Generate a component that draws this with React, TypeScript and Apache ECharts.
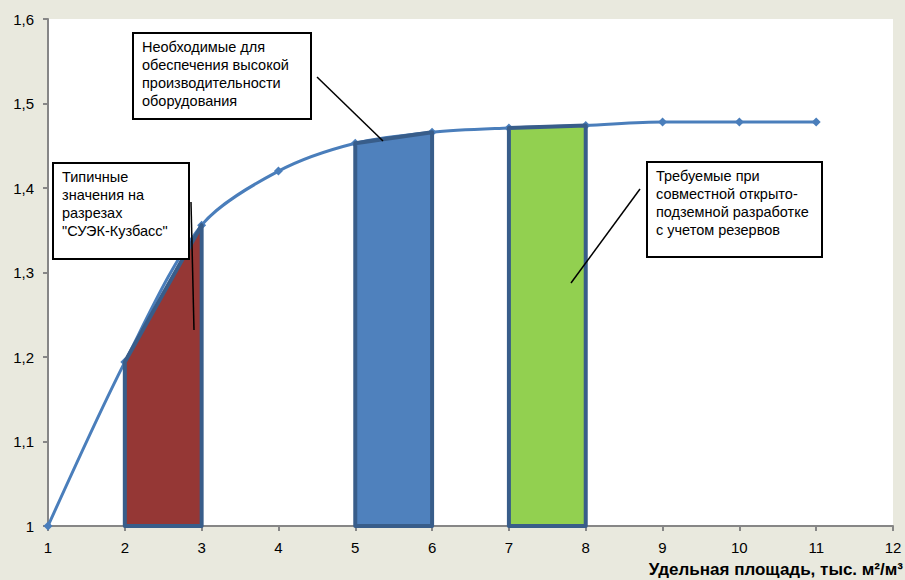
import React, { useEffect, useRef } from "react";
import * as echarts from "echarts";

const xValues = [1, 2, 3, 4, 5, 6, 7, 8, 9, 10, 11];
const yValues = [1.0, 1.194, 1.356, 1.42, 1.453, 1.466, 1.471, 1.474, 1.478, 1.478, 1.478];
const regionRanges = [
  [2, 3],
  [5, 6],
  [7, 8],
];
const regionColors = ["#953735", "#4f81bd", "#92d050"];
const xTicks = { min: 1, max: 12, interval: 1 };
const yTicks = { min: 1, max: 1.6, interval: 0.1 };
const xAxisTitle = "Удельная площадь, тыс. м²/м³";
const noteHigh = "Необходимые для\nобеспечения высокой\nпроизводительности\nоборудования";
const noteTypical = "Типичные\nзначения на\nразрезах\n\"СУЭК-Кузбасс\"";
const noteRequired = "Требуемые при\nсовместной открыто-\nподземной разработке\nс учетом резервов";

const valueAt = (x: number) => yValues[xValues.indexOf(x)];

function box(x: number, y: number, w: number, h: number, text: string) {
  return {
    type: "group",
    z: 100,
    children: [
      {
        type: "rect",
        shape: { x, y, width: w, height: h },
        style: { fill: "#ffffff", stroke: "#000000", lineWidth: 2 },
        z: 100,
      },
      {
        type: "text",
        x: x + 9,
        y: y + 5,
        style: {
          text,
          fill: "#000000",
          font: "14.5px 'Liberation Sans', Arial, sans-serif",
          lineHeight: 18,
          textAlign: "left",
          textVerticalAlign: "top",
        },
        z: 101,
      },
    ],
  };
}

function leader(x1: number, y1: number, x2: number, y2: number) {
  return {
    type: "line",
    z: 100,
    shape: { x1, y1, x2, y2 },
    style: { stroke: "#000000", lineWidth: 1.5 },
  };
}

export default function App() {
  const ref = useRef<HTMLDivElement>(null);
  useEffect(() => {
    if (!ref.current) return;
    const chart = echarts.init(ref.current, null, { renderer: "svg" });
    const fmt = (v: number) => {
      const r = Math.round(v * 10) / 10;
      return r === Math.round(r) ? String(Math.round(r)) : r.toFixed(1).replace(".", ",");
    };
    const regionSeries = regionRanges.map((rg, i) => ({
      type: "custom",
      z: 5,
      encode: { x: [0, 2], y: [1, 3] },
      data: [[rg[0], valueAt(rg[0]), rg[1], valueAt(rg[1])]],
      renderItem: (params: any, api: any) => {
        const x0 = api.value(0);
        const y0 = api.value(1);
        const x1 = api.value(2);
        const y1 = api.value(3);
        const pts = [
          api.coord([x0, yTicks.min]),
          api.coord([x0, y0]),
          api.coord([x1, y1]),
          api.coord([x1, yTicks.min]),
        ];
        return {
          type: "polygon",
          shape: { points: pts },
          style: { fill: regionColors[i], stroke: "#385d8a", lineWidth: 4, lineJoin: "round" },
        };
      },
    }));
    chart.setOption({
      animation: false,
      backgroundColor: "#e9e9de",
      grid: {
        left: 48,
        right: 12,
        top: 19,
        bottom: 54,
        show: true,
        backgroundColor: "#ffffff",
        borderWidth: 0,
      },
      xAxis: {
        type: "value",
        min: xTicks.min,
        max: xTicks.max,
        interval: xTicks.interval,
        axisLine: { lineStyle: { color: "#868686", width: 2 } },
        axisTick: { show: true, length: 5, inside: false, lineStyle: { color: "#868686", width: 2 } },
        splitLine: { show: false },
        axisLabel: {
          color: "#000000",
          fontSize: 15,
          fontFamily: "'Liberation Sans', Arial, sans-serif",
          margin: 14,
          formatter: (v: number) => String(v),
        },
      },
      yAxis: {
        type: "value",
        min: yTicks.min,
        max: yTicks.max,
        interval: yTicks.interval,
        axisLine: { show: true, lineStyle: { color: "#868686", width: 2 } },
        axisTick: { show: true, length: 5, lineStyle: { color: "#868686", width: 2 } },
        splitLine: { show: false },
        axisLabel: {
          color: "#000000",
          fontSize: 15,
          fontFamily: "'Liberation Sans', Arial, sans-serif",
          margin: 14,
          formatter: fmt,
        },
      },
      series: [
        {
          type: "line",
          z: 3,
          data: xValues.map((x, i) => [x, yValues[i]]),
          smooth: 0.3,
          symbol: "diamond",
          symbolSize: 9,
          lineStyle: { color: "#4a7ebb", width: 3 },
          itemStyle: { color: "#4a7ebb" },
        },
        ...regionSeries,
      ],
      graphic: [
        box(133, 33, 178, 86, noteHigh),
        leader(317, 77, 383, 141),
        box(53, 163, 136, 96, noteTypical),
        leader(191, 202, 194, 330),
        box(647, 162, 175, 95, noteRequired),
        leader(640, 189, 571, 283),
        {
          type: "text",
          z: 100,
          x: 903,
          y: 569,
          style: {
            text: xAxisTitle,
            fill: "#000000",
            font: "bold 17px 'Liberation Sans', Arial, sans-serif",
            textAlign: "right",
            textVerticalAlign: "middle",
          },
        },
      ],
    });
    return () => chart.dispose();
  }, []);
  return <div ref={ref} style={{ width: 905, height: 580, position: "absolute", left: 0, top: 0 }} />;
}
